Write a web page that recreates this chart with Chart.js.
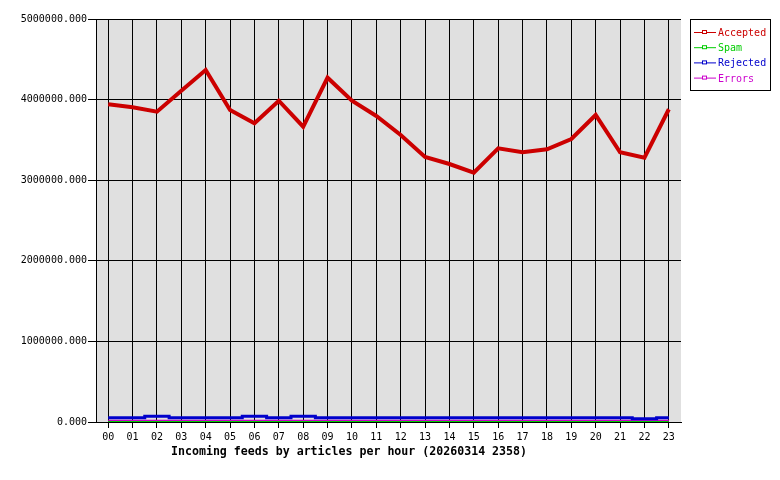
<!DOCTYPE html>
<html>
<head>
<meta charset="utf-8">
<script src="https://cdn.jsdelivr.net/npm/chart.js@4/dist/chart.umd.min.js"></script>
<style>
html, body { margin: 0; padding: 0; background: #fff; }
canvas { display: block; }
</style>
</head>
<body>
<canvas id="c" width="780" height="480"></canvas>
<script>
// hours of the day
var hours = ["00","01","02","03","04","05","06","07","08","09","10","11",
	"12","13","14","15","16","17","18","19","20","21","22","23"];

// articles per hour
var accepted = [3942000, 3904000, 3850000, 4110000, 4367000, 3871000, 3706000, 3986000,
	3664000, 4272000, 3986000, 3797000, 3561000, 3288000, 3201000, 3093000,
	3396000, 3346000, 3383000, 3511000, 3809000, 3346000, 3279000, 3880000];
var spam = [0, 0, 0, 0, 0, 0, 0, 0, 0, 0, 0, 0,
	0, 0, 0, 0, 0, 0, 0, 0, 0, 0, 0, 0];
var rejected = [53000, 53000, 70000, 53000, 53000, 53000, 70000, 53000,
	70000, 53000, 53000, 53000, 53000, 53000, 53000, 53000,
	53000, 53000, 53000, 53000, 53000, 53000, 41000, 53000];
var errors = [16000, 16000, 16000, 16000, 16000, 16000, 16000, 16000,
	16000, 16000, 16000, 16000, 16000, 16000, 16000, 16000,
	16000, 16000, 16000, 16000, 16000, 16000, 16000, 16000];

var yTicks = [0, 1000000, 2000000, 3000000, 4000000, 5000000];

var seriesNames = ["Accepted", "Spam", "Rejected", "Errors"];
var seriesColors = ["#cc0000", "#00cc00", "#0000cc", "#cc00cc"];

var MONO = "'DejaVu Sans Mono', monospace";
var titleText = "Incoming feeds by articles per hour (20260314 2358)";

// grey plot background
var bgPlugin = {
	id: "plotBg",
	beforeDraw: function(chart) {
		var a = chart.chartArea, ctx = chart.ctx;
		ctx.save();
		ctx.fillStyle = "#e0e0e0";
		ctx.fillRect(a.left, a.top, a.right - a.left, a.bottom - a.top);
		ctx.restore();
	}
};

// legend box + title at the bottom
var decoPlugin = {
	id: "deco",
	afterDraw: function(chart) {
		var ctx = chart.ctx;
		ctx.save();

		// legend box
		ctx.fillStyle = "#fff";
		ctx.fillRect(690, 19, 80, 71);
		ctx.strokeStyle = "#000";
		ctx.lineWidth = 1;
		ctx.strokeRect(690.5, 19.5, 80, 71);

		ctx.font = "10px " + MONO;
		ctx.textBaseline = "middle";
		ctx.textAlign = "left";
		for(var i = 0; i < seriesNames.length; i++) {
			var y = 32.5 + i * 15.2;
			ctx.strokeStyle = seriesColors[i];
			ctx.beginPath();
			ctx.moveTo(694, y);
			ctx.lineTo(716, y);
			ctx.stroke();
			ctx.fillStyle = "#fff";
			ctx.fillRect(703, y - 1.5, 3, 3);
			ctx.strokeRect(702.5, y - 2, 4, 3);
			ctx.fillStyle = seriesColors[i];
			ctx.fillText(seriesNames[i], 718, y + 1);
		}

		// title
		ctx.fillStyle = "#000";
		ctx.font = "bold 11.6px " + MONO;
		ctx.textAlign = "center";
		ctx.fillText(titleText, 349, 452);
		ctx.restore();
	}
};

function mkSet(i, data, width, stepped) {
	return {
		label: seriesNames[i],
		data: data,
		borderColor: seriesColors[i],
		backgroundColor: seriesColors[i],
		borderWidth: width,
		pointRadius: 0,
		tension: 0,
		fill: false,
		stepped: stepped
	};
}

new Chart(document.getElementById("c").getContext("2d"), {
	type: "line",
	data: {
		labels: hours,
		datasets: [
			mkSet(0, accepted, 4, false),
			mkSet(1, spam, 2, "middle"),
			mkSet(2, rejected, 3, "middle"),
			mkSet(3, errors, 2, "middle")
		]
	},
	options: {
		responsive: false,
		animation: false,
		devicePixelRatio: 1,
		layout: { padding: { top: 19, right: 99, bottom: 0, left: 0 } },
		plugins: {
			legend: { display: false },
			tooltip: { enabled: false },
			title: { display: false }
		},
		scales: {
			x: {
				type: "category",
				offset: true,
				grid: { offset: false, color: "#000", lineWidth: 1, tickLength: 6, tickColor: "#000" },
				border: { color: "#000", width: 1 },
				ticks: { color: "#000", font: { family: MONO, size: 10 }, padding: 3, maxRotation: 0, autoSkip: false },
				afterFit: function(s) { s.height = 58; }
			},
			y: {
				min: 0,
				max: 5000000,
				afterBuildTicks: function(s) {
					s.ticks = yTicks.map(function(v) { return { value: v }; });
				},
				grid: { color: "#000", lineWidth: 1, tickLength: 8, tickColor: "#000" },
				border: { color: "#000", width: 1 },
				ticks: {
					color: "#000",
					font: { family: MONO, size: 10 },
					padding: 1,
					callback: function(v) { return Number(v).toFixed(3); }
				},
				afterFit: function(s) { s.width = 96; }
			}
		}
	},
	plugins: [bgPlugin, decoPlugin]
});
</script>
</body>
</html>
